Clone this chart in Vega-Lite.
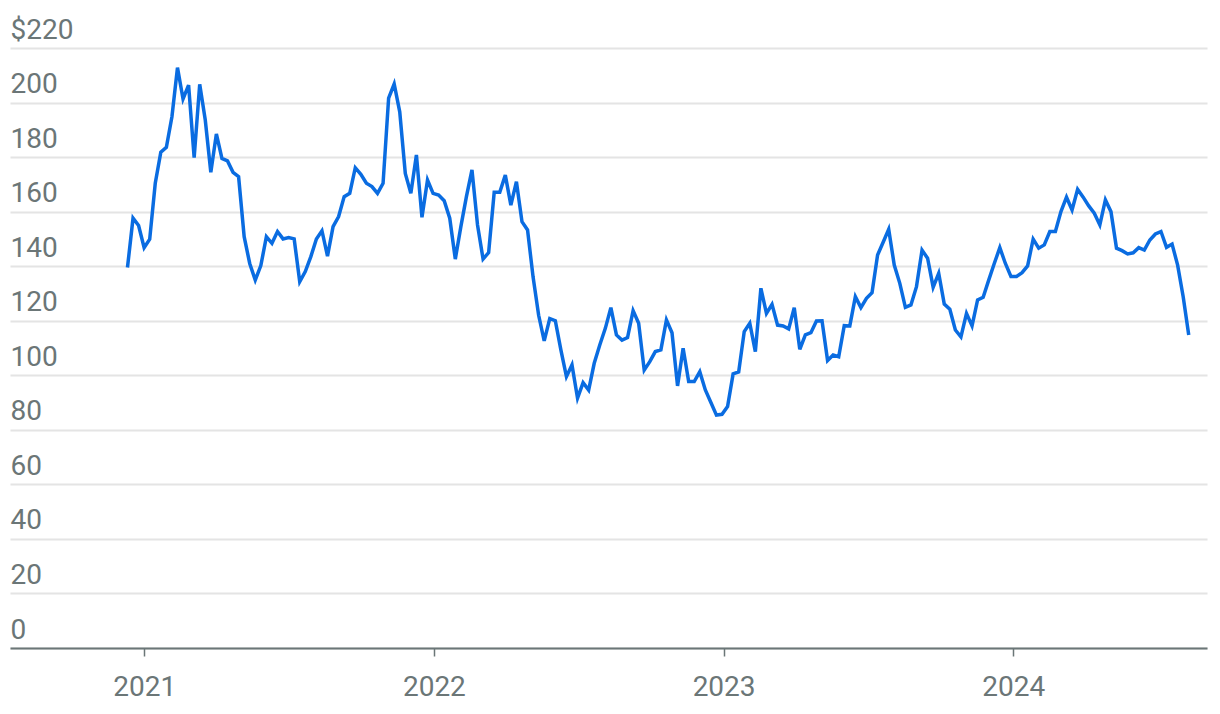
{
  "$schema": "https://vega.github.io/schema/vega-lite/v6.json",
  "width": 1197,
  "height": 600,
  "autosize": {"type": "none"},
  "padding": {"left": 10, "top": 48, "right": 13, "bottom": 66},
  "background": "#ffffff",
  "config": {
    "view": {"stroke": null},
    "font": "Roboto"
  },
  "data": {
    "values": [
      {"date": "2020-12-11", "price": 139.5},
      {"date": "2020-12-18", "price": 157.6},
      {"date": "2020-12-25", "price": 154.9},
      {"date": "2021-01-01", "price": 146.8},
      {"date": "2021-01-08", "price": 149.9},
      {"date": "2021-01-15", "price": 170.4},
      {"date": "2021-01-22", "price": 181.8},
      {"date": "2021-01-29", "price": 183.6},
      {"date": "2021-02-05", "price": 194.8},
      {"date": "2021-02-12", "price": 212.8},
      {"date": "2021-02-19", "price": 201.3},
      {"date": "2021-02-26", "price": 206.4},
      {"date": "2021-03-05", "price": 179.8},
      {"date": "2021-03-12", "price": 206.7},
      {"date": "2021-03-19", "price": 193.6},
      {"date": "2021-03-26", "price": 174.4},
      {"date": "2021-04-02", "price": 188.5},
      {"date": "2021-04-09", "price": 179.5},
      {"date": "2021-04-16", "price": 178.6},
      {"date": "2021-04-23", "price": 174.4},
      {"date": "2021-04-30", "price": 172.8},
      {"date": "2021-05-07", "price": 150.8},
      {"date": "2021-05-14", "price": 141.0},
      {"date": "2021-05-21", "price": 134.9},
      {"date": "2021-05-28", "price": 140.2},
      {"date": "2021-06-04", "price": 150.8},
      {"date": "2021-06-11", "price": 148.4},
      {"date": "2021-06-18", "price": 152.7},
      {"date": "2021-06-25", "price": 150.0},
      {"date": "2021-07-02", "price": 150.5},
      {"date": "2021-07-09", "price": 150.0},
      {"date": "2021-07-16", "price": 134.3},
      {"date": "2021-07-23", "price": 138.0},
      {"date": "2021-07-30", "price": 143.5},
      {"date": "2021-08-06", "price": 150.0},
      {"date": "2021-08-13", "price": 153.0},
      {"date": "2021-08-20", "price": 143.7},
      {"date": "2021-08-27", "price": 154.5},
      {"date": "2021-09-03", "price": 158.2},
      {"date": "2021-09-10", "price": 165.5},
      {"date": "2021-09-17", "price": 166.7},
      {"date": "2021-09-24", "price": 176.1},
      {"date": "2021-10-01", "price": 173.7},
      {"date": "2021-10-08", "price": 170.4},
      {"date": "2021-10-15", "price": 169.2},
      {"date": "2021-10-22", "price": 166.7},
      {"date": "2021-10-29", "price": 170.4},
      {"date": "2021-11-05", "price": 201.6},
      {"date": "2021-11-12", "price": 206.8},
      {"date": "2021-11-19", "price": 196.6},
      {"date": "2021-11-26", "price": 174.0},
      {"date": "2021-12-03", "price": 166.7},
      {"date": "2021-12-10", "price": 180.8},
      {"date": "2021-12-17", "price": 157.9},
      {"date": "2021-12-24", "price": 171.6},
      {"date": "2021-12-31", "price": 166.7},
      {"date": "2022-01-07", "price": 166.1},
      {"date": "2022-01-14", "price": 164.0},
      {"date": "2022-01-21", "price": 157.6},
      {"date": "2022-01-28", "price": 142.6},
      {"date": "2022-02-04", "price": 154.5},
      {"date": "2022-02-11", "price": 165.5},
      {"date": "2022-02-18", "price": 175.3},
      {"date": "2022-02-25", "price": 155.1},
      {"date": "2022-03-04", "price": 142.6},
      {"date": "2022-03-11", "price": 145.0},
      {"date": "2022-03-18", "price": 167.1},
      {"date": "2022-03-25", "price": 167.1},
      {"date": "2022-04-01", "price": 173.4},
      {"date": "2022-04-08", "price": 162.4},
      {"date": "2022-04-15", "price": 171.0},
      {"date": "2022-04-22", "price": 156.3},
      {"date": "2022-04-29", "price": 153.3},
      {"date": "2022-05-06", "price": 136.0},
      {"date": "2022-05-13", "price": 122.0},
      {"date": "2022-05-20", "price": 112.6},
      {"date": "2022-05-27", "price": 120.8},
      {"date": "2022-06-03", "price": 120.0},
      {"date": "2022-06-10", "price": 109.3},
      {"date": "2022-06-17", "price": 99.5},
      {"date": "2022-06-24", "price": 103.8},
      {"date": "2022-07-01", "price": 91.6},
      {"date": "2022-07-08", "price": 97.3},
      {"date": "2022-07-15", "price": 94.6},
      {"date": "2022-07-22", "price": 104.4},
      {"date": "2022-07-29", "price": 111.1},
      {"date": "2022-08-05", "price": 117.2},
      {"date": "2022-08-12", "price": 124.8},
      {"date": "2022-08-19", "price": 114.8},
      {"date": "2022-08-26", "price": 112.9},
      {"date": "2022-09-02", "price": 113.8},
      {"date": "2022-09-09", "price": 123.7},
      {"date": "2022-09-16", "price": 119.1},
      {"date": "2022-09-23", "price": 101.9},
      {"date": "2022-09-30", "price": 105.0},
      {"date": "2022-10-07", "price": 108.7},
      {"date": "2022-10-14", "price": 109.3},
      {"date": "2022-10-21", "price": 120.3},
      {"date": "2022-10-28", "price": 115.6},
      {"date": "2022-11-04", "price": 96.1},
      {"date": "2022-11-11", "price": 109.9},
      {"date": "2022-11-18", "price": 97.7},
      {"date": "2022-11-25", "price": 97.7},
      {"date": "2022-12-02", "price": 101.3},
      {"date": "2022-12-09", "price": 94.6},
      {"date": "2022-12-16", "price": 90.0},
      {"date": "2022-12-23", "price": 85.4},
      {"date": "2022-12-30", "price": 85.7},
      {"date": "2023-01-06", "price": 88.5},
      {"date": "2023-01-13", "price": 100.5},
      {"date": "2023-01-20", "price": 101.2},
      {"date": "2023-01-27", "price": 116.0},
      {"date": "2023-02-03", "price": 119.1},
      {"date": "2023-02-10", "price": 108.7},
      {"date": "2023-02-17", "price": 131.9},
      {"date": "2023-02-24", "price": 122.7},
      {"date": "2023-03-03", "price": 126.0},
      {"date": "2023-03-10", "price": 118.4},
      {"date": "2023-03-17", "price": 118.1},
      {"date": "2023-03-24", "price": 117.0},
      {"date": "2023-03-31", "price": 124.8},
      {"date": "2023-04-07", "price": 109.5},
      {"date": "2023-04-14", "price": 114.8},
      {"date": "2023-04-21", "price": 115.6},
      {"date": "2023-04-28", "price": 119.9},
      {"date": "2023-05-05", "price": 120.0},
      {"date": "2023-05-12", "price": 105.4},
      {"date": "2023-05-19", "price": 107.4},
      {"date": "2023-05-26", "price": 106.8},
      {"date": "2023-06-02", "price": 118.2},
      {"date": "2023-06-09", "price": 118.1},
      {"date": "2023-06-16", "price": 128.8},
      {"date": "2023-06-23", "price": 124.8},
      {"date": "2023-06-30", "price": 128.2},
      {"date": "2023-07-07", "price": 130.3},
      {"date": "2023-07-14", "price": 144.1},
      {"date": "2023-07-21", "price": 148.8},
      {"date": "2023-07-28", "price": 153.5},
      {"date": "2023-08-04", "price": 140.4},
      {"date": "2023-08-11", "price": 133.7},
      {"date": "2023-08-18", "price": 124.9},
      {"date": "2023-08-25", "price": 125.8},
      {"date": "2023-09-01", "price": 132.5},
      {"date": "2023-09-08", "price": 145.9},
      {"date": "2023-09-15", "price": 142.9},
      {"date": "2023-09-22", "price": 132.3},
      {"date": "2023-09-29", "price": 137.4},
      {"date": "2023-10-06", "price": 126.1},
      {"date": "2023-10-13", "price": 124.2},
      {"date": "2023-10-20", "price": 116.6},
      {"date": "2023-10-27", "price": 114.1},
      {"date": "2023-11-03", "price": 122.7},
      {"date": "2023-11-10", "price": 118.1},
      {"date": "2023-11-17", "price": 127.6},
      {"date": "2023-11-24", "price": 128.6},
      {"date": "2023-12-01", "price": 134.9},
      {"date": "2023-12-08", "price": 141.0},
      {"date": "2023-12-15", "price": 146.8},
      {"date": "2023-12-22", "price": 141.0},
      {"date": "2023-12-29", "price": 136.2},
      {"date": "2024-01-05", "price": 136.2},
      {"date": "2024-01-12", "price": 137.6},
      {"date": "2024-01-19", "price": 140.1},
      {"date": "2024-01-26", "price": 149.9},
      {"date": "2024-02-02", "price": 146.6},
      {"date": "2024-02-09", "price": 147.8},
      {"date": "2024-02-16", "price": 152.7},
      {"date": "2024-02-23", "price": 152.7},
      {"date": "2024-03-01", "price": 160.0},
      {"date": "2024-03-08", "price": 165.3},
      {"date": "2024-03-15", "price": 160.6},
      {"date": "2024-03-22", "price": 168.2},
      {"date": "2024-03-29", "price": 165.3},
      {"date": "2024-04-05", "price": 162.1},
      {"date": "2024-04-12", "price": 159.4},
      {"date": "2024-04-19", "price": 155.1},
      {"date": "2024-04-26", "price": 164.3},
      {"date": "2024-05-03", "price": 160.0},
      {"date": "2024-05-10", "price": 146.6},
      {"date": "2024-05-17", "price": 145.7},
      {"date": "2024-05-24", "price": 144.5},
      {"date": "2024-05-31", "price": 144.9},
      {"date": "2024-06-07", "price": 146.8},
      {"date": "2024-06-14", "price": 145.9},
      {"date": "2024-06-21", "price": 149.6},
      {"date": "2024-06-28", "price": 151.8},
      {"date": "2024-07-05", "price": 152.7},
      {"date": "2024-07-12", "price": 146.9},
      {"date": "2024-07-19", "price": 148.1},
      {"date": "2024-07-26", "price": 140.4},
      {"date": "2024-08-02", "price": 128.8},
      {"date": "2024-08-09", "price": 114.8}
    ]
  },
  "mark": {"type": "line", "color": "#0a6ce1", "strokeWidth": 3.5, "clip": true},
  "encoding": {
    "x": {
      "field": "date",
      "type": "temporal",
      "scale": {
        "type": "utc",
        "domain": [
          {"year": 2020, "month": 7, "date": 16, "utc": true},
          {"year": 2024, "month": 9, "date": 1, "utc": true}
        ]
      },
      "axis": {
        "title": null,
        "values": [
          {"year": 2021, "month": 1, "date": 1, "utc": true},
          {"year": 2022, "month": 1, "date": 1, "utc": true},
          {"year": 2023, "month": 1, "date": 1, "utc": true},
          {"year": 2024, "month": 1, "date": 1, "utc": true}
        ],
        "format": "%Y",
        "grid": false,
        "domain": true,
        "domainColor": "#6b7677",
        "domainWidth": 2,
        "ticks": true,
        "tickColor": "#6b7677",
        "tickWidth": 1.5,
        "tickSize": 8,
        "labelFont": "Roboto",
        "labelFontSize": 28,
        "labelColor": "#6b7677",
        "labelPadding": 17,
        "labelFlush": false,
        "labelOverlap": false
      }
    },
    "y": {
      "field": "price",
      "type": "quantitative",
      "scale": {"domain": [0, 220], "nice": false, "zero": true},
      "axis": {
        "title": null,
        "values": [0, 20, 40, 60, 80, 100, 120, 140, 160, 180, 200, 220],
        "labelExpr": "datum.value == 220 ? '$220' : datum.label",
        "grid": true,
        "gridColor": "#e4e4e4",
        "gridWidth": 2,
        "domain": false,
        "ticks": false,
        "tickSize": 0,
        "labelAlign": "left",
        "labelBaseline": "alphabetic",
        "labelPadding": 0,
        "labelOffset": -10,
        "labelFont": "Roboto",
        "labelFontSize": 28,
        "labelColor": "#6b7677",
        "labelFlush": false,
        "labelOverlap": false,
        "labelBound": false
      }
    }
  }
}
